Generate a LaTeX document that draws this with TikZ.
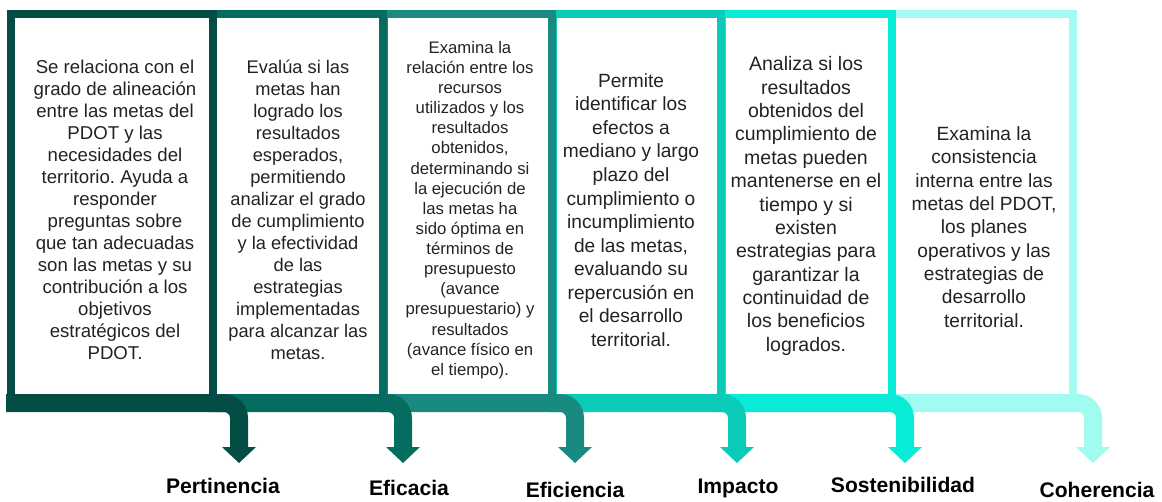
\documentclass[tikz,border=0pt]{standalone}
\usepackage{fontspec}
\setmainfont{Liberation Sans}
\frenchspacing

\definecolor{verde1}{HTML}{034D44}
\definecolor{verde2}{HTML}{056D60}
\definecolor{verde3}{HTML}{198A80}
\definecolor{verde4}{HTML}{09CBB8}
\definecolor{verde5}{HTML}{08EBD6}
\definecolor{verde6}{HTML}{A0FBF0}
\definecolor{texto}{HTML}{222222}

\tikzset{
	marco/.style={line width=0.16cm},
	desc/.style={align=center,text=texto,inner sep=0},
	etiqueta/.style={font=\bfseries\fontsize{12}{14}\selectfont,text=black,inner sep=0}
}

\begin{document}
\begin{tikzpicture}[x=0.02cm,y=0.02cm]
	\useasboundingbox (0,0) rectangle (1162,501);
	\draw[marco,verde6] (892,103) rectangle (1073,487);
	\fill[verde6] (888,107) -- (1078,107) arc[start angle=90,end angle=0,radius=24] -- (1102,54) -- (1110,54) -- (1093,38) -- (1076,54) -- (1084,54) -- (1084,83) arc[start angle=0,end angle=90,radius=6] -- (888,89) -- cycle;
	\draw[marco,verde5] (722,103) rectangle (892,487);
	\fill[verde5] (718,107) -- (890,107) arc[start angle=90,end angle=0,radius=24] -- (914,54) -- (922,54) -- (905,38) -- (888,54) -- (896,54) -- (896,83) arc[start angle=0,end angle=90,radius=6] -- (718,89) -- cycle;
	\draw[marco,verde4] (553,103) rectangle (721,487);
	\fill[verde4] (549,107) -- (722,107) arc[start angle=90,end angle=0,radius=24] -- (746,54) -- (754,54) -- (737,38) -- (720,54) -- (728,54) -- (728,83) arc[start angle=0,end angle=90,radius=6] -- (549,89) -- cycle;
	\draw[marco,verde3] (384,103) rectangle (552,487);
	\fill[verde3] (380,107) -- (560,107) arc[start angle=90,end angle=0,radius=24] -- (584,54) -- (592,54) -- (575,38) -- (558,54) -- (566,54) -- (566,83) arc[start angle=0,end angle=90,radius=6] -- (380,89) -- cycle;
	\draw[marco,verde2] (213,103) rectangle (383,487);
	\fill[verde2] (209,107) -- (388,107) arc[start angle=90,end angle=0,radius=24] -- (412,54) -- (420,54) -- (403,38) -- (386,54) -- (394,54) -- (394,83) arc[start angle=0,end angle=90,radius=6] -- (209,89) -- cycle;
	\draw[marco,verde1] (11,103) rectangle (213,487);
	\fill[verde1] (6,107) -- (224,107) arc[start angle=90,end angle=0,radius=24] -- (248,54) -- (256,54) -- (239,38) -- (222,54) -- (230,54) -- (230,83) arc[start angle=0,end angle=90,radius=6] -- (6,89) -- cycle;
	\node[desc,font=\fontsize{10.6}{12.5}\selectfont] (t1) at (115,291) {Se relaciona con el\\grado de alineación\\entre las metas del\\PDOT y las\\necesidades del\\territorio. Ayuda a\\responder\\preguntas sobre\\que tan adecuadas\\son las metas y su\\contribución a los\\objetivos\\estratégicos del\\PDOT.};
	\node[desc,font=\fontsize{10.4}{12.5}\selectfont] (t2) at (298,291) {Evalúa si las\\metas han\\logrado los\\resultados\\esperados,\\permitiendo\\analizar el grado\\de cumplimiento\\y la efectividad\\de las\\estrategias\\implementadas\\para alcanzar las\\metas.};
	\node[desc,font=\fontsize{9.5}{11.45}\selectfont] (t3) at (470,291) {Examina la\\relación entre los\\recursos\\utilizados y los\\resultados\\obtenidos,\\determinando si\\la ejecución de\\las metas ha\\sido óptima en\\términos de\\presupuesto\\(avance\\presupuestario) y\\resultados\\(avance físico en\\el tiempo).};
	\node[desc,font=\fontsize{10.9}{13.4}\selectfont] (t4) at (631,291) {Permite\\identificar los\\efectos a\\mediano y largo\\plazo del\\cumplimiento o\\incumplimiento\\de las metas,\\evaluando su\\repercusión en\\el desarrollo\\territorial.};
	\node[desc,font=\fontsize{11.1}{13.3}\selectfont] (t5) at (806,295) {Analiza si los\\resultados\\obtenidos del\\cumplimiento de\\metas pueden\\mantenerse en el\\tiempo y si\\existen\\estrategias para\\garantizar la\\continuidad de\\los beneficios\\logrados.};
	\node[desc,font=\fontsize{10.9}{13.3}\selectfont] (t6) at (984,274) {Examina la\\consistencia\\interna entre las\\metas del PDOT,\\los planes\\operativos y las\\estrategias de\\desarrollo\\territorial.};
	\node[etiqueta] (l1) at (223,15) {Pertinencia};
	\node[etiqueta] (l2) at (409,13) {Eficacia};
	\node[etiqueta] (l3) at (575,11) {Eficiencia};
	\node[etiqueta] (l4) at (738,13) {Impacto};
	\node[etiqueta] (l5) at (903,16) {Sostenibilidad};
	\node[etiqueta] (l6) at (1097,11) {Coherencia};
\end{tikzpicture}
\end{document}
